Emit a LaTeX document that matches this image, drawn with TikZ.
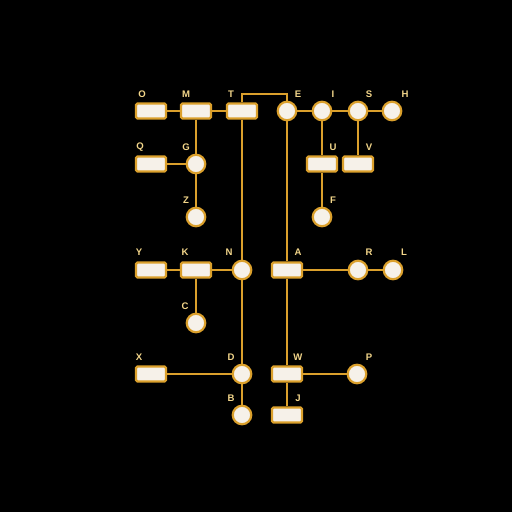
\documentclass[tikz,border=0pt]{standalone}
\usepackage{fontspec}
\setmainfont{Liberation Sans}
\definecolor{gold}{HTML}{DBA02C}
\definecolor{cream}{HTML}{F6F1E9}
\definecolor{labc}{HTML}{F3D68A}
\begin{document}
\begin{tikzpicture}[x=1bp,y=-1bp,
  box/.style={rectangle, rounded corners=1.5bp, minimum width=30bp, minimum height=15bp, inner sep=0pt, draw=gold, fill=cream, line width=2.2bp},
  dot/.style={circle, minimum size=18.5bp, inner sep=0pt, draw=gold, fill=cream, line width=2.2bp},
  wire/.style={draw=gold, line width=2.2bp},
  lab/.style={text=labc, font=\bfseries\fontsize{9.6}{9.6}\selectfont, inner sep=0pt}]
\fill[black] (0,0) rectangle (512,512);
\useasboundingbox (0,0) rectangle (512,512);
% nodes
\node[box] (O) at (151,111) {};
\node[box] (M) at (196,111) {};
\node[box] (T) at (242,111) {};
\node[dot] (E) at (287,111) {};
\node[dot] (I) at (322,111) {};
\node[dot] (S) at (358,111) {};
\node[dot] (H) at (392,111) {};
\node[box] (Q) at (151,164) {};
\node[dot] (G) at (196,164) {};
\node[box] (U) at (322,164) {};
\node[box] (V) at (358,164) {};
\node[dot] (Z) at (196,217) {};
\node[dot] (F) at (322,217) {};
\node[box] (Y) at (151,270) {};
\node[box] (K) at (196,270) {};
\node[dot] (N) at (242,270) {};
\node[box] (A) at (287,270) {};
\node[dot] (R) at (358,270) {};
\node[dot] (L) at (393,270) {};
\node[dot] (C) at (196,323) {};
\node[box] (X) at (151,374) {};
\node[dot] (D) at (242,374) {};
\node[box] (W) at (287,374) {};
\node[dot] (P) at (357,374) {};
\node[dot] (B) at (242,415) {};
\node[box] (J) at (287,415) {};
% edges
\coordinate (bend) at (264,94);
\draw[wire] (O) -- (M);
\draw[wire] (M) -- (T);
\draw[wire] (T.north) |- (bend) -| (E.north);
\draw[wire] (E) -- (I);
\draw[wire] (I) -- (S);
\draw[wire] (S) -- (H);
\draw[wire] (M) -- (G);
\draw[wire] (Q) -- (G);
\draw[wire] (G) -- (Z);
\draw[wire] (I) -- (U);
\draw[wire] (S) -- (V);
\draw[wire] (U) -- (F);
\draw[wire] (T) -- (N);
\draw[wire] (E) -- (A);
\draw[wire] (Y) -- (K);
\draw[wire] (K) -- (N);
\draw[wire] (K) -- (C);
\draw[wire] (A) -- (R);
\draw[wire] (R) -- (L);
\draw[wire] (N) -- (D);
\draw[wire] (A) -- (W);
\draw[wire] (X) -- (D);
\draw[wire] (D) -- (B);
\draw[wire] (W) -- (P);
\draw[wire] (W) -- (J);
% labels
\node[lab] (Ol) at (142,94) {O};
\node[lab] (Ml) at (186,94) {M};
\node[lab] (Tl) at (231,94) {T};
\node[lab] (El) at (298,94) {E};
\node[lab] (Il) at (333,94) {I};
\node[lab] (Sl) at (369,94) {S};
\node[lab] (Hl) at (405,94) {H};
\node[lab] (Ql) at (140,147) {Q};
\node[lab] (Gl) at (186,147) {G};
\node[lab] (Ul) at (333,147) {U};
\node[lab] (Vl) at (369,147) {V};
\node[lab] (Zl) at (186,200) {Z};
\node[lab] (Fl) at (333,200) {F};
\node[lab] (Yl) at (139,252) {Y};
\node[lab] (Kl) at (185,252) {K};
\node[lab] (Nl) at (229,252) {N};
\node[lab] (Al) at (298,252) {A};
\node[lab] (Rl) at (369,252) {R};
\node[lab] (Ll) at (404,252) {L};
\node[lab] (Cl) at (185,306) {C};
\node[lab] (Xl) at (139,357) {X};
\node[lab] (Dl) at (231,357) {D};
\node[lab] (Wl) at (298,357) {W};
\node[lab] (Pl) at (369,357) {P};
\node[lab] (Bl) at (231,398) {B};
\node[lab] (Jl) at (298,398) {J};
\end{tikzpicture}
\end{document}
